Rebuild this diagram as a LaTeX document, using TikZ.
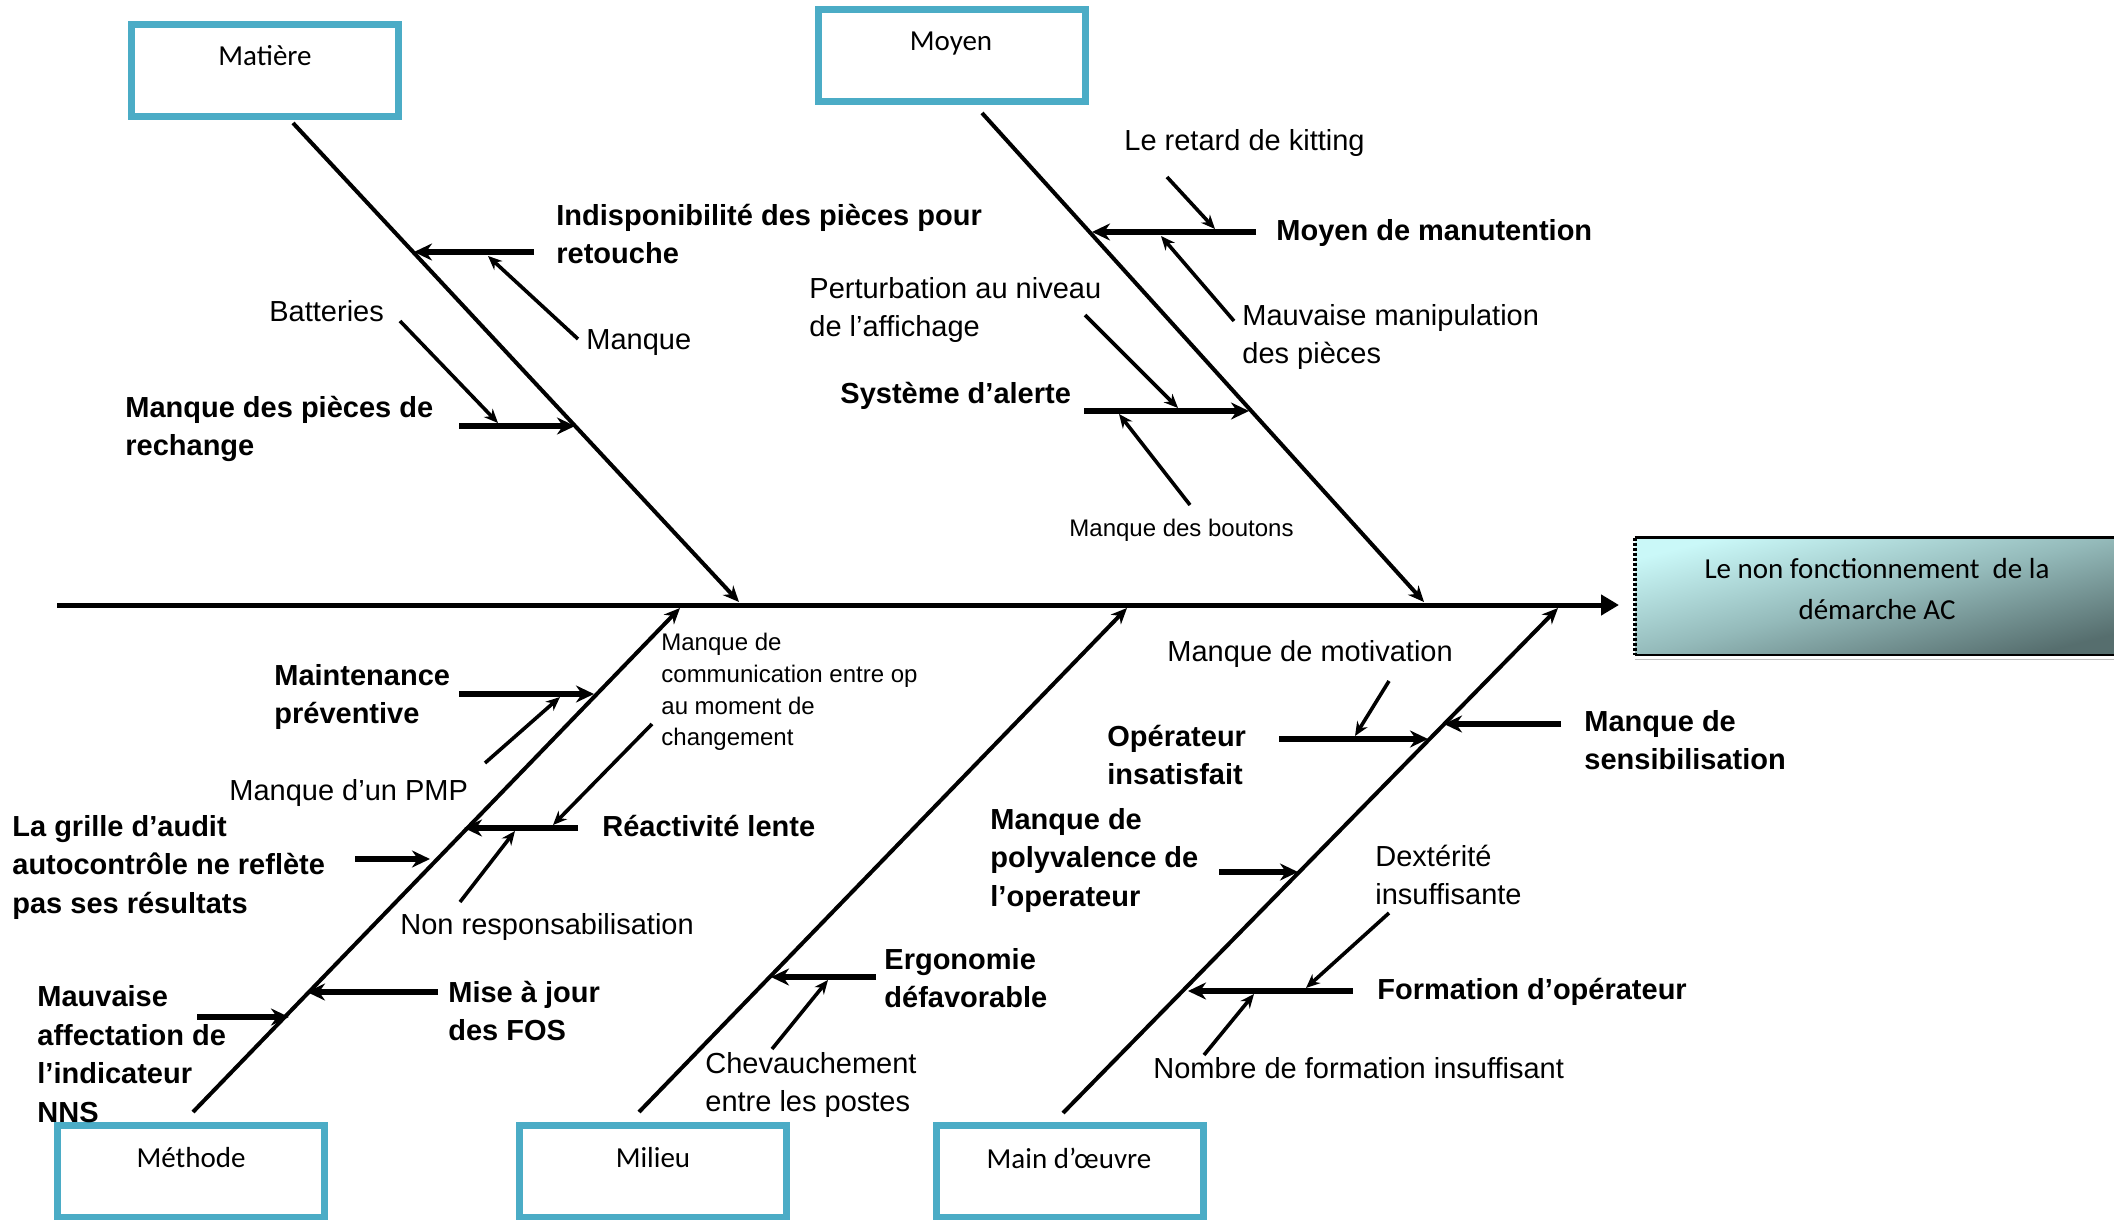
\documentclass[tikz,border=0pt]{standalone}
\usepackage{fontspec}
\setmainfont{Liberation Sans}
\newfontfamily\calibri{Carlito}
\usetikzlibrary{arrows.meta}

\definecolor{boxteal}{HTML}{4BACC6}
\definecolor{effectlight}{HTML}{CAF8F8}
\definecolor{effectmid}{HTML}{94BABA}
\definecolor{effectdark}{HTML}{566E6E}

\begin{document}
\begin{tikzpicture}[x=0.5pt, y=-0.5pt,
             spine/.style={line width=2.5pt, -{Triangle[length=9pt,width=10pt]}},
             bone/.style={line width=2pt, -{Stealth[length=8pt,width=7pt]}},
             causearrow/.style={line width=2.75pt, -{Stealth[length=9pt,width=8.5pt]}},
             subarrow/.style={line width=1.8pt, -{Stealth[length=7pt,width=6pt]}},
             catbox/.style={draw=boxteal, line width=3.5pt, minimum width=133.5pt, minimum height=46pt, inner sep=0pt},
             catlabel/.style={font=\calibri\fontsize{14.5}{17}\selectfont, inner sep=0pt},
             effectbox/.style={top color=effectlight, bottom color=effectdark, middle color=effectmid, shading angle=14, minimum width=239.5pt, minimum height=58.5pt, inner sep=0pt},
             effectlabel/.style={font=\calibri\fontsize{14.5}{20.5}\selectfont, align=center, inner sep=0pt},
             causetext/.style={font=\bfseries\fontsize{14.5}{19.25}\selectfont, align=left, anchor=west, inner sep=0pt},
             subtext/.style={font=\fontsize{14.5}{19.25}\selectfont, align=left, anchor=west, inner sep=0pt},
             smalltext/.style={font=\fontsize{12}{15.9}\selectfont, align=left, anchor=west, inner sep=0pt}]
             \useasboundingbox (0,0) rectangle (2114,1220);

             % les familles
             \node[catbox] (matiere) at (265,70.5) {};
             \node[catlabel] (matiereText) at (265,56) {Matière};
             \node[catbox] (moyen) at (951.5,55.5) {};
             \node[catlabel] (moyenText) at (951,44) {Moyen};
             \node[catbox] (methode) at (191,1171) {};
             \node[catlabel] (methodeText) at (191,1158) {Méthode};
             \node[catbox] (milieu) at (653,1171) {};
             \node[catlabel] (milieuText) at (653,1158) {Milieu};
             \node[catbox] (mainoeuvre) at (1069.5,1171) {};
             \node[catlabel] (mainoeuvreText) at (1069,1158) {Main d’œuvre};

             % l'effet
             \node[effectbox] (effet) at (1874.5,596.5) {};
             \node[effectlabel] (effetText) at (1877,589) {Le non fonctionnement\ \ de la\\démarche AC};
             \draw[line width=1.5pt] (effet.north west) -- (effet.north east);
             \draw[line width=1pt] (effet.south west) -- (effet.south east);
             \draw[line width=0.75pt, gray!50] ([yshift=-2pt]effet.south west) -- ([yshift=-2pt]effet.south east);
             \draw[line width=2pt, dash pattern=on 1.5pt off 1pt] (effet.north west) -- (effet.south west);

             % arete principale
             \coordinate (tail) at (57,605);
             \coordinate (head) at (1619,605);
             \draw[spine] (tail) -- (head);

             \coordinate (matTop) at (293,123);
             \coordinate (matEnd) at (739,602);
             \draw[bone] (matTop) -- (matEnd);
             \coordinate (moyTop) at (982,113);
             \coordinate (moyEnd) at (1424,602);
             \draw[bone] (moyTop) -- (moyEnd);
             \coordinate (metBot) at (193,1112);
             \coordinate (metEnd) at (680,608);
             \draw[bone] (metBot) -- (metEnd);
             \coordinate (milBot) at (639,1112);
             \coordinate (milEnd) at (1127,608);
             \draw[bone] (milBot) -- (milEnd);
             \coordinate (mainBot) at (1063,1113);
             \coordinate (mainEnd) at (1558,608);
             \draw[bone] (mainBot) -- (mainEnd);

             % Matiere
             \node[causetext] (indispo) at (556,234) {Indisponibilité des pièces pour\\retouche};
             \coordinate (m1s) at (534,252);
             \coordinate (m1e) at (414,252);
             \draw[causearrow] (m1s) -- (m1e);
             \node[subtext] (manque) at (586,343) {Manque};
             \coordinate (m1as) at (578,339);
             \coordinate (m1ae) at (488,256);
             \draw[subarrow] (m1as) -- (m1ae);

             \node[causetext] (rechange) at (125,429) {Manque des pièces de\\rechange};
             \coordinate (m2s) at (459,426);
             \coordinate (m2e) at (575,426);
             \draw[causearrow] (m2s) -- (m2e);
             \node[subtext] (batteries) at (269,311) {Batteries};
             \coordinate (m2as) at (400,321);
             \coordinate (m2ae) at (498,423);
             \draw[subarrow] (m2as) -- (m2ae);

             % Moyen
             \node[causetext] (manutention) at (1276,233) {Moyen de manutention};
             \coordinate (y1s) at (1256,232);
             \coordinate (y1e) at (1092,232);
             \draw[causearrow] (y1s) -- (y1e);
             \node[subtext] (kitting) at (1124,143) {Le retard de kitting};
             \coordinate (y1as) at (1167,177);
             \coordinate (y1ae) at (1215,229);
             \draw[subarrow] (y1as) -- (y1ae);
             \node[subtext] (manipulation) at (1242,337) {Mauvaise manipulation\\des pièces};
             \coordinate (y1bs) at (1234,321);
             \coordinate (y1be) at (1161,236);
             \draw[subarrow] (y1bs) -- (y1be);

             \node[causetext] (alerte) at (840,396) {Système d’alerte};
             \coordinate (y2s) at (1084,411);
             \coordinate (y2e) at (1249,411);
             \draw[causearrow] (y2s) -- (y2e);
             \node[subtext] (affichage) at (809,310) {Perturbation au niveau\\de l’affichage};
             \coordinate (y2as) at (1085,315);
             \coordinate (y2ae) at (1178,408);
             \draw[subarrow] (y2as) -- (y2ae);
             \node[smalltext] (boutons) at (1069,530) {Manque des boutons};
             \coordinate (y2bs) at (1190,505);
             \coordinate (y2be) at (1119,414);
             \draw[subarrow] (y2bs) -- (y2be);

             % Methode
             \node[causetext] (maintenance) at (274,697) {Maintenance\\préventive};
             \coordinate (t1s) at (459,694);
             \coordinate (t1e) at (594,694);
             \draw[causearrow] (t1s) -- (t1e);
             \node[subtext] (pmp) at (229,793) {Manque d’un PMP};
             \coordinate (t1as) at (485,763);
             \coordinate (t1ae) at (560,697);
             \draw[subarrow] (t1as) -- (t1ae);

             \node[smalltext] (communication) at (661,692) {Manque de\\communication entre op\\au moment de\\changement};
             \node[causetext] (reactivite) at (602,826) {Réactivité lente};
             \coordinate (t2s) at (578,828);
             \coordinate (t2e) at (464,828);
             \draw[causearrow] (t2s) -- (t2e);
             \coordinate (t2as) at (652,724);
             \coordinate (t2ae) at (553,825);
             \draw[subarrow] (t2as) -- (t2ae);
             \node[subtext] (nonresp) at (400,927) {Non responsabilisation};
             \coordinate (t2bs) at (460,902);
             \coordinate (t2be) at (515,831);
             \draw[subarrow] (t2bs) -- (t2be);

             \node[causetext] (grille) at (12,867) {La grille d’audit\\autocontrôle ne reflète\\pas ses résultats};
             \coordinate (t3s) at (355,859);
             \coordinate (t3e) at (430,859);
             \draw[causearrow] (t3s) -- (t3e);

             \node[causetext] (misejour) at (448,1011) {Mise à jour\\des FOS};
             \coordinate (t4s) at (438,992);
             \coordinate (t4e) at (307,992);
             \draw[causearrow] (t4s) -- (t4e);

             \node[causetext] (affectation) at (37,1054) {Mauvaise\\affectation de\\l’indicateur\\NNS};
             \coordinate (t5s) at (197,1017);
             \coordinate (t5e) at (289,1017);
             \draw[causearrow] (t5s) -- (t5e);

             % Milieu
             \node[causetext] (ergonomie) at (884,978) {Ergonomie\\défavorable};
             \coordinate (l1s) at (876,977);
             \coordinate (l1e) at (771,977);
             \draw[causearrow] (l1s) -- (l1e);
             \node[subtext] (chevauchement) at (705,1085) {Chevauchement\\entre les postes};
             \coordinate (l1as) at (772,1049);
             \coordinate (l1ae) at (828,980);
             \draw[subarrow] (l1as) -- (l1ae);

             % Main d'oeuvre
             \node[causetext] (sensibilisation) at (1584,740) {Manque de\\sensibilisation};
             \coordinate (d1s) at (1561,724);
             \coordinate (d1e) at (1444,724);
             \draw[causearrow] (d1s) -- (d1e);

             \node[causetext] (insatisfait) at (1107,755) {Opérateur\\insatisfait};
             \coordinate (d2s) at (1279,739);
             \coordinate (d2e) at (1428,739);
             \draw[causearrow] (d2s) -- (d2e);
             \node[subtext] (motivation) at (1167,654) {Manque de motivation};
             \coordinate (d2as) at (1389,681);
             \coordinate (d2ae) at (1355,736);
             \draw[subarrow] (d2as) -- (d2ae);

             \node[causetext] (polyvalence) at (990,860) {Manque de\\polyvalence de\\l’operateur};
             \coordinate (d3s) at (1219,872);
             \coordinate (d3e) at (1298,872);
             \draw[causearrow] (d3s) -- (d3e);

             \node[causetext] (formation) at (1377,992) {Formation d’opérateur};
             \coordinate (d4s) at (1353,991);
             \coordinate (d4e) at (1188,991);
             \draw[causearrow] (d4s) -- (d4e);
             \node[subtext] (dexterite) at (1375,875) {Dextérité\\insuffisante};
             \coordinate (d4as) at (1389,913);
             \coordinate (d4ae) at (1306,988);
             \draw[subarrow] (d4as) -- (d4ae);
             \node[subtext] (nombre) at (1153,1068) {Nombre de formation insuffisant};
             \coordinate (d4bs) at (1204,1055);
             \coordinate (d4be) at (1254,994);
             \draw[subarrow] (d4bs) -- (d4be);
             \end{tikzpicture}
\end{document}
